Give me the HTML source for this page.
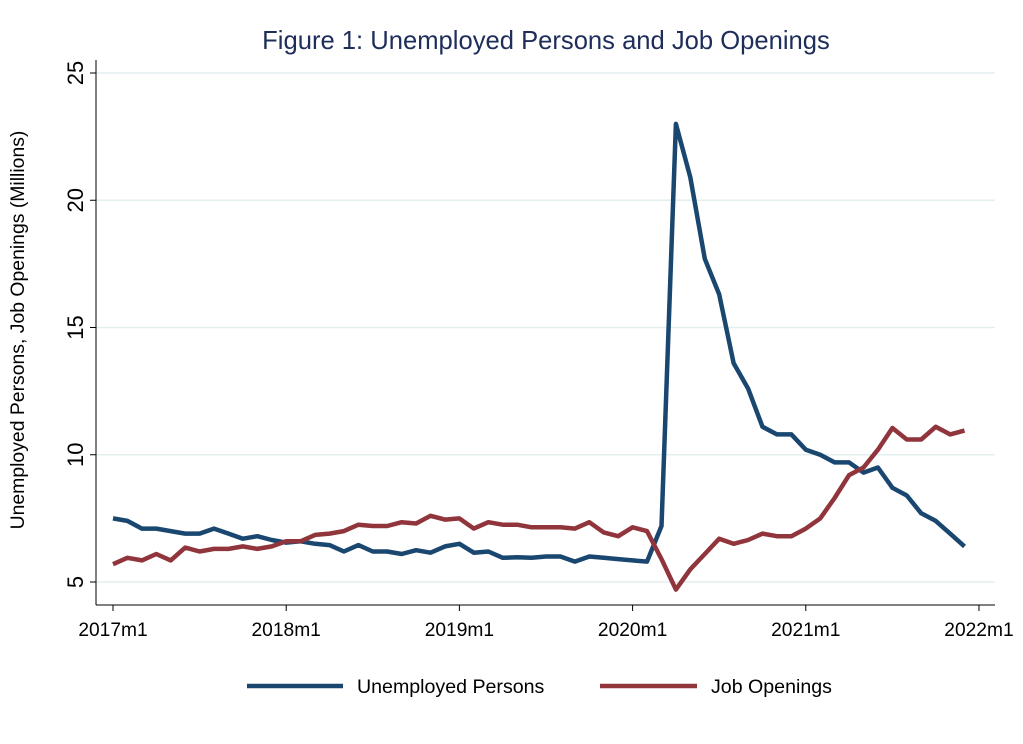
<!DOCTYPE html>
<html><head><meta charset="utf-8"><style>
html,body{margin:0;padding:0;background:#fff;}
svg{display:block;font-family:"Liberation Sans",Arial,sans-serif;}
</style></head><body>
<svg id="c" width="1023" height="744" viewBox="0 0 1023 744">
<rect width="1023" height="744" fill="#fff"/>
<text x="546" y="49" text-anchor="middle" font-size="25.6" fill="#1e2d5a">Figure 1: Unemployed Persons and Job Openings</text>
<g id="grid" stroke="#e3eeef" stroke-width="1.5"></g>
<line x1="96" y1="60" x2="96" y2="605" stroke="#000" stroke-width="1"/>
<line x1="96" y1="605" x2="995" y2="605" stroke="#000" stroke-width="1"/>
<g id="yt" font-size="22" fill="#000"></g>
<g id="xt" font-size="19.2" fill="#000"></g>
<text transform="translate(24,330) rotate(-90)" text-anchor="middle" font-size="19.4" fill="#000">Unemployed Persons, Job Openings (Millions)</text>
<polyline id="u" fill="none" stroke="#1a476f" stroke-width="4.5" stroke-linejoin="round"/>
<polyline id="j" fill="none" stroke="#90353b" stroke-width="4.5" stroke-linejoin="round"/>
<line x1="247" y1="686" x2="343" y2="686" stroke="#1a476f" stroke-width="4.5"/>
<text x="357" y="693" font-size="19.6" fill="#000">Unemployed Persons</text>
<line x1="600" y1="686" x2="697" y2="686" stroke="#90353b" stroke-width="4.5"/>
<text x="711" y="693" font-size="19.6" fill="#000">Job Openings</text>
</svg>
<script>
var ns="http://www.w3.org/2000/svg";
function Y(v){return 582-(v-5)*25.45;}
function X(i){return 113+i*14.433;}
var g=document.getElementById('grid'),yt=document.getElementById('yt'),xt=document.getElementById('xt');
[5,10,15,20,25].forEach(function(v){
 var l=document.createElementNS(ns,'line');l.setAttribute('x1',96);l.setAttribute('x2',995);l.setAttribute('y1',Y(v));l.setAttribute('y2',Y(v));g.appendChild(l);
 var t=document.createElementNS(ns,'line');t.setAttribute('x1',90);t.setAttribute('x2',96);t.setAttribute('y1',Y(v));t.setAttribute('y2',Y(v));t.setAttribute('stroke','#000');yt.appendChild(t);
 var tx=document.createElementNS(ns,'text');tx.setAttribute('transform','translate(83,'+Y(v)+') rotate(-90)');tx.setAttribute('text-anchor','middle');tx.textContent=v;yt.appendChild(tx);
});
for(var k=0;k<6;k++){
 var x=X(k*12);
 var t=document.createElementNS(ns,'line');t.setAttribute('x1',x);t.setAttribute('x2',x);t.setAttribute('y1',605);t.setAttribute('y2',611);t.setAttribute('stroke','#000');xt.appendChild(t);
 var tx=document.createElementNS(ns,'text');tx.setAttribute('x',x);tx.setAttribute('y',636);tx.setAttribute('text-anchor','middle');tx.textContent=(2017+k)+'m1';xt.appendChild(tx);
}
var U=[7.5,7.4,7.1,7.1,7.0,6.9,6.9,7.1,6.9,6.7,6.8,6.65,
6.55,6.6,6.5,6.45,6.2,6.45,6.2,6.2,6.1,6.25,6.15,6.4,
6.5,6.15,6.2,5.95,5.97,5.95,6.0,6.0,5.8,6.0,5.95,5.9,
5.85,5.8,7.2,23.0,20.9,17.7,16.3,13.6,12.6,11.1,10.8,10.8,
10.2,10.0,9.7,9.7,9.3,9.5,8.7,8.4,7.7,7.4,6.9,6.4];
var J=[5.7,5.95,5.85,6.1,5.85,6.35,6.2,6.3,6.3,6.4,6.3,6.4,
6.6,6.6,6.85,6.9,7.0,7.25,7.2,7.2,7.35,7.3,7.6,7.45,
7.5,7.1,7.35,7.25,7.25,7.15,7.15,7.15,7.1,7.35,6.95,6.8,
7.15,7.0,5.9,4.7,5.5,6.1,6.7,6.5,6.65,6.9,6.8,6.8,
7.1,7.5,8.3,9.2,9.5,10.2,11.05,10.6,10.6,11.1,10.8,10.95];
function pts(a){return a.map(function(v,i){return X(i).toFixed(1)+','+Y(v).toFixed(1);}).join(' ');}
document.getElementById('u').setAttribute('points',pts(U));
document.getElementById('j').setAttribute('points',pts(J));
</script>
</body></html>
